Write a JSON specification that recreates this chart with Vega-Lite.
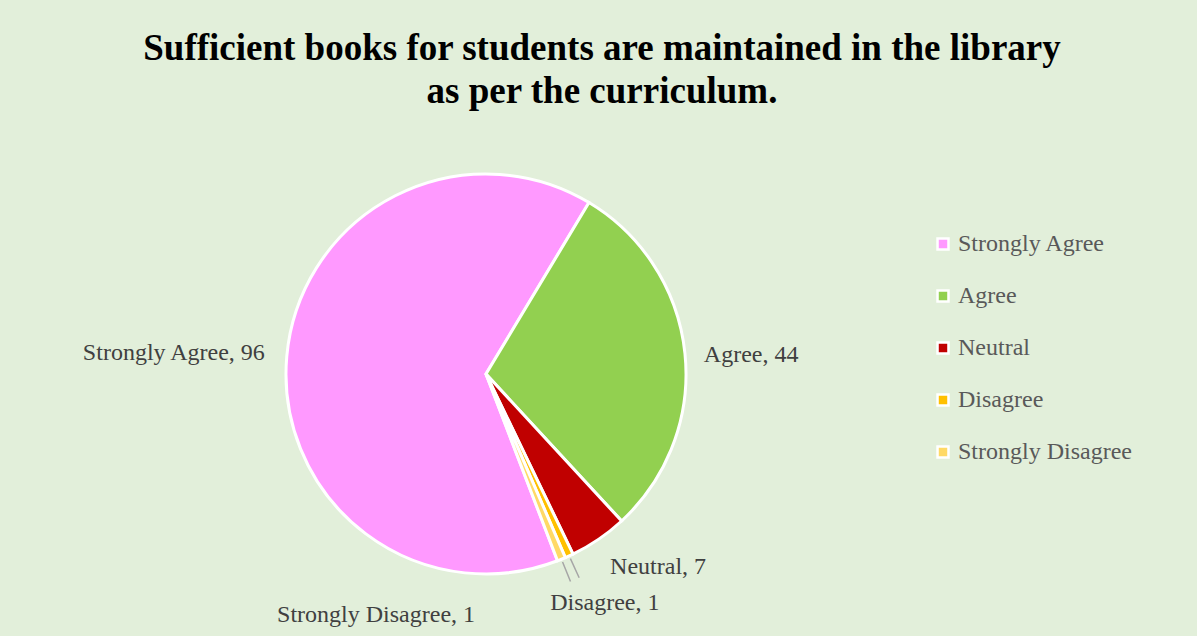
{
  "$schema": "https://vega.github.io/schema/vega-lite/v6.json",
  "autosize": {"type": "none"},
  "width": 972,
  "height": 400,
  "padding": {"left": 0, "top": 174, "right": 225, "bottom": 62},
  "background": "#E2EFDA",
  "view": {"stroke": null},
  "title": {
    "text": ["Sufficient books for students are maintained in the library", "as per the curriculum."],
    "font": "Liberation Serif",
    "fontSize": 37,
    "fontWeight": "bold",
    "color": "#000000",
    "anchor": "middle",
    "dx": 116,
    "offset": 57,
    "lineHeight": 43
  },
  "data": {
    "values": [
      {"category": "Strongly Agree", "value": 96, "order": 1},
      {"category": "Agree", "value": 44, "order": 2},
      {"category": "Neutral", "value": 7, "order": 3},
      {"category": "Disagree", "value": 1, "order": 4},
      {"category": "Strongly Disagree", "value": 1, "order": 5}
    ]
  },
  "transform": [
    {"stack": "value", "groupby": [], "sort": [{"field": "order", "order": "ascending"}], "as": ["start", "end"]},
    {"calculate": "(datum.start + datum.end) / 2", "as": "mid"},
    {"calculate": "datum.category + ', ' + datum.value", "as": "label"}
  ],
  "layer": [
    {
      "mark": {"type": "arc", "outerRadius": 200, "stroke": "#FFFFFF", "strokeWidth": 3},
      "encoding": {
        "theta": {"field": "start", "type": "quantitative", "stack": null, "scale": {"domain": [0, 149], "range": [2.7759, 9.0591]}},
        "theta2": {"field": "end"},
        "color": {
          "field": "category",
          "type": "nominal",
          "scale": {
            "domain": ["Strongly Agree", "Agree", "Neutral", "Disagree", "Strongly Disagree"],
            "range": ["#FF99FF", "#92D050", "#C00000", "#FFC000", "#FFD966"]
          },
          "legend": {
            "orient": "none",
            "legendX": 931,
            "legendY": 58,
            "title": null,
            "padding": 0,
            "symbolType": "square",
            "symbolSize": 120,
            "symbolStrokeColor": "#FFFFFF",
            "symbolStrokeWidth": 2.5,
            "labelFont": "Liberation Serif",
            "labelFontSize": 24,
            "labelColor": "#595959",
            "labelOffset": 3,
            "labelLimit": 300,
            "rowPadding": 28
          }
        }
      }
    },
    {
      "transform": [{"filter": "datum.category === 'Disagree' || datum.category === 'Strongly Disagree'"}],
      "mark": {"type": "arc", "innerRadius": 203, "outerRadius": 224, "stroke": "#A6A6A6", "strokeWidth": 1.5, "fill": null},
      "encoding": {
        "theta": {"field": "mid", "type": "quantitative", "stack": null, "scale": {"domain": [0, 149], "range": [2.7759, 9.0591]}},
        "theta2": {"field": "mid"}
      }
    },
    {
      "transform": [{"filter": "datum.category === 'Strongly Agree'"}],
      "mark": {"type": "text", "radius": 222, "align": "right", "baseline": "middle", "dy": -2, "font": "Liberation Serif", "fontSize": 24, "fill": "#404040"},
      "encoding": {
        "theta": {"field": "mid", "type": "quantitative", "stack": null, "scale": {"domain": [0, 149], "range": [2.7759, 9.0591]}},
        "text": {"field": "label"}
      }
    },
    {
      "transform": [{"filter": "datum.category === 'Agree'"}],
      "mark": {"type": "text", "radius": 219, "align": "left", "baseline": "middle", "dy": 3, "font": "Liberation Serif", "fontSize": 24, "fill": "#404040"},
      "encoding": {
        "theta": {"field": "mid", "type": "quantitative", "stack": null, "scale": {"domain": [0, 149], "range": [2.7759, 9.0591]}},
        "text": {"field": "label"}
      }
    },
    {
      "transform": [{"filter": "datum.category === 'Neutral'"}],
      "mark": {"type": "text", "radius": 233, "align": "left", "baseline": "middle", "dx": -7, "font": "Liberation Serif", "fontSize": 24, "fill": "#404040"},
      "encoding": {
        "theta": {"field": "mid", "type": "quantitative", "stack": null, "scale": {"domain": [0, 149], "range": [2.7759, 9.0591]}},
        "text": {"field": "label"}
      }
    },
    {
      "transform": [{"filter": "datum.category === 'Disagree'"}],
      "mark": {"type": "text", "radius": 252, "align": "center", "baseline": "middle", "dx": 14, "font": "Liberation Serif", "fontSize": 24, "fill": "#404040"},
      "encoding": {
        "theta": {"field": "mid", "type": "quantitative", "stack": null, "scale": {"domain": [0, 149], "range": [2.7759, 9.0591]}},
        "text": {"field": "label"}
      }
    },
    {
      "transform": [{"filter": "datum.category === 'Strongly Disagree'"}],
      "mark": {"type": "text", "radius": 260, "align": "right", "baseline": "middle", "dx": -109, "font": "Liberation Serif", "fontSize": 24, "fill": "#404040"},
      "encoding": {
        "theta": {"field": "mid", "type": "quantitative", "stack": null, "scale": {"domain": [0, 149], "range": [2.7759, 9.0591]}},
        "text": {"field": "label"}
      }
    }
  ]
}
